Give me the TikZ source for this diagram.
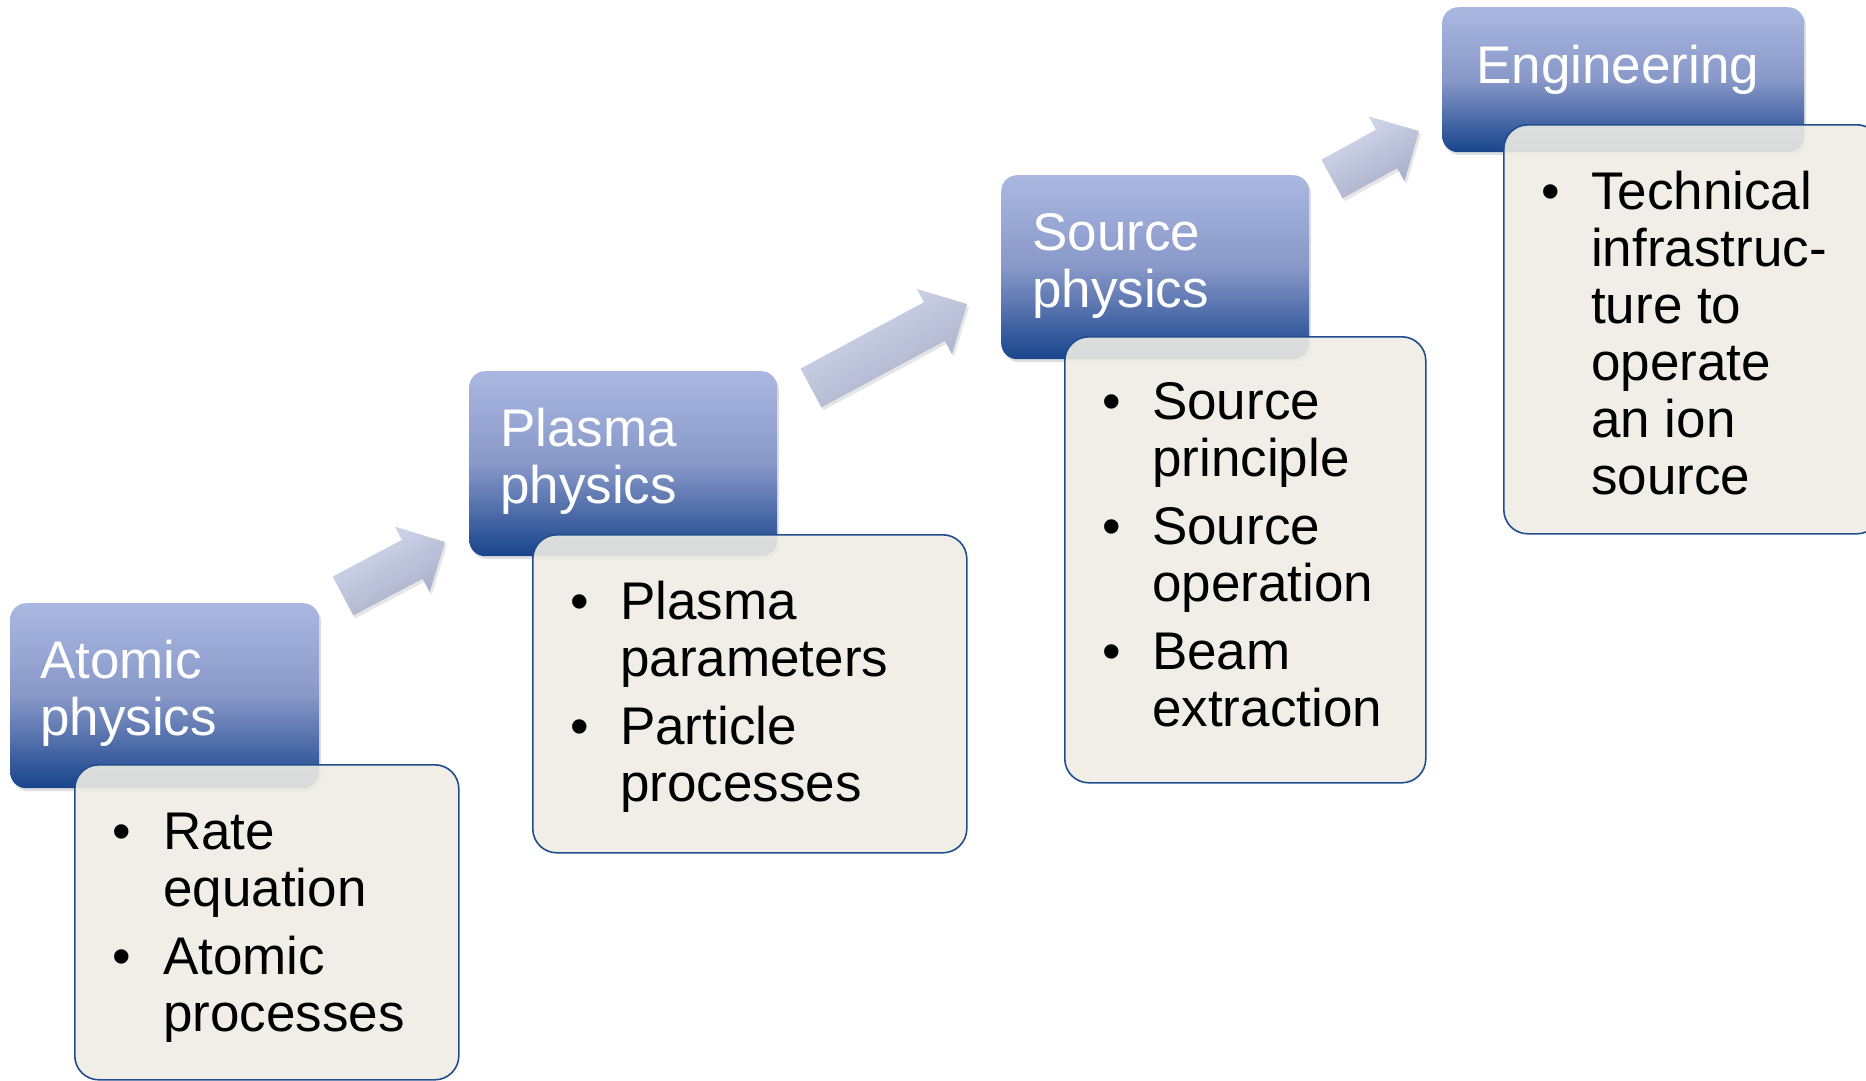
\documentclass[tikz,border=0pt]{standalone}
\usepackage{fontspec}
\setmainfont{Liberation Sans}
\usetikzlibrary{calc,shadows}
\definecolor{hdrTop}{RGB}{170,184,225}
\definecolor{hdrMid}{RGB}{136,152,200}
\definecolor{hdrBot}{RGB}{24,68,140}
\definecolor{bodyFill}{RGB}{238,236,228}
\definecolor{bodyLine}{RGB}{32,78,140}
\definecolor{arrLight}{RGB}{214,219,238}
\definecolor{arrDark}{RGB}{164,172,198}
\newcommand{\drawStepArrow}[2]{%
  \coordinate (#1h) at ($(#2)!37pt!(#1)$);
  \path[blockarrow]
    ($(#1)!22pt!90:(#2)$) -- ($(#1h)!22pt!90:(#2)$) -- ($(#1h)!37pt!90:(#2)$)
    -- (#2) -- ($(#1h)!37pt!-90:(#2)$) -- ($(#1h)!22pt!-90:(#2)$)
    -- ($(#1)!22pt!-90:(#2)$) -- cycle;}
\begin{document}
\begin{tikzpicture}[x=1pt,y=-1pt,
  header/.style={rounded corners=16pt, top color=hdrTop, bottom color=hdrBot, middle color=hdrMid,
    draw=none, drop shadow={opacity=0.25, shadow xshift=2pt, shadow yshift=-3pt},
    anchor=north west, inner sep=0pt},
  bodybox/.style={rounded corners=24pt, fill=bodyFill, fill opacity=0.9, draw=bodyLine,
    line width=1.6pt, anchor=north west, inner sep=0pt},
  htext/.style={anchor=north west, inner sep=0pt, align=left, text=white,
    font=\fontsize{53}{57}\selectfont},
  btext/.style={anchor=north west, inner sep=0pt, align=left, text=black,
    font=\fontsize{53}{57}\selectfont},
  blockarrow/.style={top color=arrLight, bottom color=arrDark, shading angle=30,
    drop shadow={opacity=0.2, shadow xshift=2pt, shadow yshift=-3pt}}
]
\useasboundingbox (0,0) rectangle (1866,1081);

% step arrows
\coordinate (a1) at (343,596); \coordinate (a1p) at (445,542);
\coordinate (a2) at (811,388); \coordinate (a2p) at (967,304);
\coordinate (a3) at (1332,179); \coordinate (a3p) at (1419,131);
\drawStepArrow{a1}{a1p}
\drawStepArrow{a2}{a2p}
\drawStepArrow{a3}{a3p}

% headers
\node[header, minimum width=309pt, minimum height=185pt] (h1) at (10,603) {};
\node[header, minimum width=308pt, minimum height=185pt] (h2) at (469,371) {};
\node[header, minimum width=308pt, minimum height=184pt] (h3) at (1001,175) {};
\node[header, minimum width=362pt, minimum height=145pt] (h4) at (1442,7) {};

% bodies
\node[bodybox, minimum width=384pt, minimum height=315pt] (b1) at (74,764) {};
\node[bodybox, minimum width=434pt, minimum height=318pt] (b2) at (532,534) {};
\node[bodybox, minimum width=361pt, minimum height=446pt] (b3) at (1064,336) {};
\node[bodybox, minimum width=377pt, minimum height=409pt] (b4) at (1503,124) {};

% header texts
\node[htext] (ht1) at (40,638.1) {\strut Atomic\\physics};
\node[htext] (ht2) at (500,406.1) {\strut Plasma\\physics};
\node[htext] (ht3) at (1032,210.1) {\strut Source\\physics};
\node[htext] (ht4) at (1476,43.1) {\strut Engineering};

% body texts
\node[btext] (bt1) at (81,809.1) {\strut\makebox[82pt][c]{•}Rate\\
  \hspace*{82pt}equation\\[11pt]
  \makebox[82pt][c]{•}Atomic\\
  \hspace*{82pt}processes};
\node[btext] (bt2) at (540,579.1) {\strut\makebox[80pt][c]{•}Plasma\\
  \hspace*{80pt}parameters\\[11pt]
  \makebox[80pt][c]{•}Particle\\
  \hspace*{80pt}processes};
\node[btext] (bt3) at (1072,379.1) {\strut\makebox[80pt][c]{•}Source\\
  \hspace*{80pt}principle\\[11pt]
  \makebox[80pt][c]{•}Source\\
  \hspace*{80pt}operation\\[11pt]
  \makebox[80pt][c]{•}Beam\\
  \hspace*{80pt}extraction};
\node[btext] (bt4) at (1511,169.1) {\strut\makebox[80pt][c]{•}Technical\\
  \hspace*{80pt}infrastruc-\\
  \hspace*{80pt}ture to\\
  \hspace*{80pt}operate\\
  \hspace*{80pt}an ion\\
  \hspace*{80pt}source};
\end{tikzpicture}
\end{document}
